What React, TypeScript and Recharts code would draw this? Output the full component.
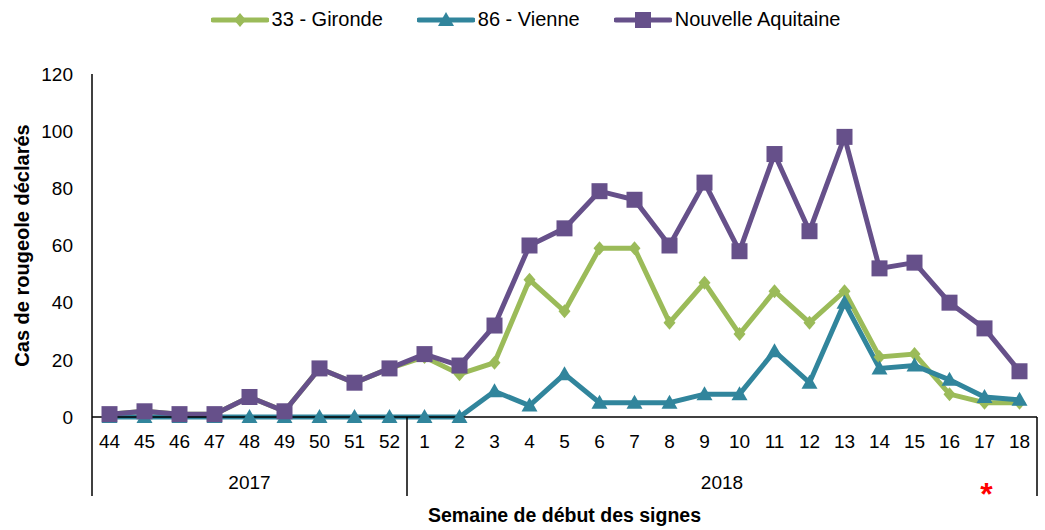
import React from 'react';
import {
    LineChart,
    Line,
    XAxis,
    YAxis,
    Legend,
    Label,
} from 'recharts';

const weeks = [
    '44', '45', '46', '47', '48', '49', '50', '51', '52',
    '1', '2', '3', '4', '5', '6', '7', '8', '9', '10',
    '11', '12', '13', '14', '15', '16', '17', '18',
];
const years = [
    '2017', '2017', '2017', '2017', '2017', '2017', '2017', '2017', '2017',
    '2018', '2018', '2018', '2018', '2018', '2018', '2018', '2018', '2018',
    '2018', '2018', '2018', '2018', '2018', '2018', '2018', '2018', '2018',
];
const gironde = [
    1, 2, 1, 1, 7, 2, 17, 12, 17,
    21, 15, 19, 48, 37, 59, 59, 33, 47, 29, 44, 33, 44, 21, 22, 8, 5, 5,
];
const vienne = [
    0, 0, 0, 0, 0, 0, 0, 0, 0,
    0, 0, 9, 4, 15, 5, 5, 5, 8, 8, 23, 12, 40, 17, 18, 13, 7, 6,
];
const nouvelleAquitaine = [
    1, 2, 1, 1, 7, 2, 17, 12, 17,
    22, 18, 32, 60, 66, 79, 76, 60, 82, 58, 92, 65, 98, 52, 54, 40, 31, 16,
];
const yTicks = [0, 20, 40, 60, 80, 100, 120];
// red asterisk under week 17 (incomplete data)
const flaggedWeek = '17';

const data = weeks.map((w, i) => ({
    week: w,
    year: years[i],
    gironde: gironde[i],
    vienne: vienne[i],
    na: nouvelleAquitaine[i],
}));

const FONT = "'Liberation Sans', Arial, sans-serif";
const GREEN = '#9bbb59';
const TEAL = '#31859c';
const PURPLE = '#66508a';

const diamond = (color: string) => ({ cx, cy }: any) =>
    cx == null ? null : (
        <path d={`M${cx},${cy - 7}L${cx + 6},${cy}L${cx},${cy + 7}L${cx - 6},${cy}Z`} fill={color} />
    );
const triangle = (color: string) => ({ cx, cy }: any) =>
    cx == null ? null : (
        <path d={`M${cx},${cy - 8}L${cx + 8},${cy + 6}L${cx - 8},${cy + 6}Z`} fill={color} />
    );
const square = (color: string) => ({ cx, cy }: any) =>
    cx == null ? null : <rect x={cx - 8} y={cy - 8} width={16} height={16} fill={color} />;

const series = [
    { key: 'gironde', name: '33 - Gironde', color: GREEN, marker: diamond(GREEN) },
    { key: 'vienne', name: '86 - Vienne', color: TEAL, marker: triangle(TEAL) },
    { key: 'na', name: 'Nouvelle Aquitaine', color: PURPLE, marker: square(PURPLE) },
];

const LegendContent = () => (
    <div
        style={{
            display: 'flex',
            justifyContent: 'center',
            gap: 34,
            fontFamily: FONT,
            fontSize: 20,
            color: '#000',
            paddingLeft: 6,
        }}
    >
        {series.map((s) => (
            <div key={s.key} style={{ display: 'flex', alignItems: 'center' }}>
                <svg width={58} height={20} style={{ marginRight: 3 }}>
                    <line x1={2} y1={10} x2={56} y2={10} stroke={s.color} strokeWidth={5} strokeLinecap="round" />
                    {s.marker({ cx: 29, cy: 10 })}
                </svg>
                <span>{s.name}</span>
            </div>
        ))}
    </div>
);

// second axis row: years and group separators
const YearTick = (props: any) => {
    const { x, y, payload } = props;
    const i = payload.index;
    const half = payload.offset || 17.5;
    const top = y - 40;
    const bottom = y + 39;
    const yr = years[i];
    const first = years.indexOf(yr);
    const last = years.lastIndexOf(yr);
    const mid = (first + last) / 2;
    const out: any[] = [];
    if (i === first) {
        out.push(<line key="l" x1={x - half} y1={top} x2={x - half} y2={bottom} stroke="#000" strokeWidth={1.5} />);
    }
    if (i === weeks.length - 1) {
        out.push(<line key="r" x1={x + half} y1={top} x2={x + half} y2={bottom} stroke="#000" strokeWidth={1.5} />);
    }
    if (i === Math.floor(mid)) {
        const shift = (mid - Math.floor(mid)) * half * 2;
        out.push(
            <text key="t" x={x + shift} y={y + 32} textAnchor="middle" fontFamily={FONT} fontSize={19} fill="#000">
                {yr}
            </text>
        );
    }
    if (payload.value === flaggedWeek && yr === '2018') {
        out.push(
            <text key="a" x={x + 2} y={y + 48} textAnchor="middle" fontFamily={FONT} fontSize={32} fontWeight="bold" fill="#ff0000">
                *
            </text>
        );
    }
    return <g>{out}</g>;
};

const App = () => {
    return (
        <div style={{ position: 'absolute', left: 0, top: 0 }}>
            <LineChart
                width={1045}
                height={530}
                data={data}
                margin={{ top: 74, right: 8, left: 0, bottom: 0 }}
            >
                <XAxis
                    dataKey="week"
                    scale="band"
                    interval={0}
                    tickLine={false}
                    tickSize={0}
                    tickMargin={18}
                    height={40}
                    axisLine={{ stroke: '#000', strokeWidth: 1.5 }}
                    tick={{ fill: '#000', fontSize: 19, fontFamily: FONT }}
                />
                <XAxis
                    xAxisId="year"
                    dataKey="week"
                    scale="band"
                    interval={0}
                    tickLine={false}
                    axisLine={false}
                    tickSize={0}
                    tickMargin={0}
                    height={73}
                    tick={<YearTick />}
                >
                    <Label
                        value="Semaine de début des signes"
                        position="insideBottom"
                        offset={8}
                        style={{ fontFamily: FONT, fontSize: 19.5, fontWeight: 'bold', fill: '#000' }}
                    />
                </XAxis>
                <YAxis
                    width={92}
                    domain={[0, 120]}
                    ticks={yTicks}
                    interval={0}
                    tickLine={false}
                    tickSize={0}
                    tickMargin={19}
                    axisLine={{ stroke: '#000', strokeWidth: 1.5 }}
                    tick={{ fill: '#000', fontSize: 19, fontFamily: FONT }}
                >
                    <Label
                        value="Cas de rougeole déclarés"
                        angle={-90}
                        position="insideLeft"
                        offset={22}
                        style={{ textAnchor: 'middle', fontFamily: FONT, fontSize: 20, fontWeight: 'bold', fill: '#000' }}
                    />
                </YAxis>
                <Legend
                    verticalAlign="middle"
                    align="center"
                    layout="horizontal"
                    wrapperStyle={{ top: 8, left: 0, width: 1045 }}
                    content={<LegendContent />}
                />
                {series.map((s) => (
                    <Line
                        key={s.key}
                        dataKey={s.key}
                        name={s.name}
                        type="linear"
                        stroke={s.color}
                        strokeWidth={5}
                        dot={s.marker}
                        activeDot={false}
                        isAnimationActive={false}
                    />
                ))}
            </LineChart>
        </div>
    );
};

export default App;
